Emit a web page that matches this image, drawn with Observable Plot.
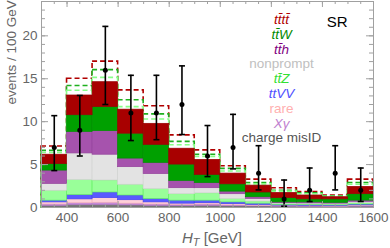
<!DOCTYPE html>
<html><head><meta charset="utf-8">
<script src="https://cdn.jsdelivr.net/npm/d3@7"></script>
<script src="https://cdn.jsdelivr.net/npm/@observablehq/plot@0.6"></script>
<style>body{margin:0;background:#fff}#chart{width:390px;height:248px}</style>
</head><body><div id="chart"></div>
<script>
// bin lower edges (GeV), width 100
const binLo = [300,400,500,600,700,800,900,1000,1100,1200,1300,1400,1500];
const binWidth = 100;

// stacked background components (bottom to top)
const components = ["charge misID","Xγ","rare","ttVV","ttZ","nonprompt","tth","ttW","tttt"];
const misID     = [0.20,0.30,0.30,0.25,0.20,0.17,0.20,0.15,0.12,0.10,0.09,0.08,0.10];
const xgamma    = [0.15,0.20,0.25,0.20,0.15,0.13,0.15,0.10,0.08,0.05,0.05,0.04,0.07];
const rare      = [0.25,0.45,0.55,0.40,0.25,0.15,0.15,0.15,0.10,0.07,0.06,0.06,0.08];
const ttVV      = [0.20,0.50,0.65,0.55,0.40,0.35,0.30,0.20,0.15,0.08,0.08,0.07,0.10];
const ttZ       = [1.15,1.75,1.40,1.25,1.15,0.75,0.85,0.40,0.25,0.10,0.10,0.10,0.15];
const nonprompt = [0.80,3.10,3.00,2.05,1.75,0.70,0.60,0.55,0.30,0.10,0.10,0.10,0.15];
const tth       = [1.55,2.50,2.75,1.00,1.30,0.85,0.60,0.30,0.20,0.10,0.12,0.10,0.15];
const ttW       = [0.75,1.95,2.80,2.90,2.10,1.90,0.95,0.85,0.55,0.50,0.35,0.40,0.75];
const tttt      = [1.10,2.30,2.90,2.80,2.45,1.85,1.75,1.25,0.80,0.60,0.45,0.25,0.85];
const seriesValues = [misID,xgamma,rare,ttVV,ttZ,nonprompt,tth,ttW,tttt];

// dashed outline totals
const redDashed   = [7.10,15.00,17.00,13.65,11.80,8.40,6.65,4.80,3.25,2.25,1.80,1.40,3.25];
const greenDashed = [6.60,14.15,16.00,12.50,10.85,7.65,6.15,4.50,2.85,1.95,1.65,1.30,2.85];
const lightDashed = [6.35,13.60,15.10,11.70,10.25,7.25,5.90,4.20,2.70,1.85,1.55,1.25,2.65];

// observed data with error bars
const observed = [7,9,16,11,11,12,6,7,4,1,2,4,2];
const errLow   = [4.3,6.0,12.0,7.8,7.9,8.5,3.6,4.5,2.05,0.15,0.7,2.05,0.7];
const errHigh  = [10.7,13.05,21.1,15.4,15.4,16.5,9.55,10.85,7.2,3.2,4.6,7.2,4.6];

// axis ticks
const xTicks = [400,600,800,1000,1200,1400,1600];
const yTicks = [0,5,10,15,20];

// legend
const legendLabels = ["t\u0074\u0304t\u0074\u0304","t\u0074\u0304W","t\u0074\u0304h","nonprompt","t\u0074\u0304Z","ttVV","rare","Xγ","charge misID"];
const legendItalic = [true,true,true,false,true,true,false,true,false];
const legendColors = ["#b00000","#008a00","#800080","#c0c0c0","#33e033","#5050ff","#ffb0b0","#c080d0","#555555"];

const fills   = ["#7a7a7a","#c58ad8","#ffd0d8","#5a5aff","#99ff99","#e3e3e3","#a653ad","#00a000","#a80000"];
const strokes = ["#6a6a6a","#b878cc","#f4b0bc","#4444f4","#66f066","#d4d4d4","#95429c","#008e00","#960000"];

const stackRows = [];
components.forEach((c, j) => binLo.forEach((b, i) =>
  stackRows.push({comp: c, x1: b, x2: b + binWidth, v: seriesValues[j][i]})));
const bins = binLo.map((b, i) => ({x1: b, x2: b + binWidth, xc: b + binWidth / 2,
  red: redDashed[i], green: greenDashed[i], light: lightDashed[i],
  n: observed[i], lo: errLow[i], hi: errHigh[i]}));

const capSymbol = {draw(ctx, size) { const r = Math.sqrt(size / Math.PI); ctx.moveTo(-r, 0); ctx.lineTo(r, 0); }};
const xMinor = d3.range(300, 1601, 50);
const yMinor = d3.range(0, 25, 1);
const axisColor = "#a0a0a0";

const legendMarks = legendLabels.map((t, i) => Plot.text([t], {
  frameAnchor: "top-left", dx: 240, dy: 13 + i * 14.8, text: d => d, textAnchor: "middle",
  fill: legendColors[i], fontSize: 13.5, fontStyle: legendItalic[i] ? "italic" : "normal"
}));

const chart = Plot.plot({
  width: 390, height: 248,
  marginLeft: 41, marginRight: 17, marginTop: 1, marginBottom: 41,
  x: {domain: [300, 1600]},
  y: {domain: [0, 24]},
  color: {domain: components, range: fills},
  style: {fontFamily: "Liberation Sans, Arial, sans-serif", fontSize: "13px", background: "white"},
  marks: [
    Plot.rectY(bins, {x1: "x1", x2: "x2", y1: 0, y2: "red", fill: "white", stroke: "#b00000", strokeWidth: 1.6, strokeDasharray: "5,3"}),
    Plot.rectY(bins, {x1: "x1", x2: "x2", y1: 0, y2: "green", fill: "white", stroke: "#1fb01f", strokeWidth: 1.6, strokeDasharray: "5,3"}),
    Plot.rectY(bins, {x1: "x1", x2: "x2", y1: 0, y2: "light", fill: "white", stroke: "#88ff88", strokeWidth: 1.6, strokeDasharray: "5,3"}),
    Plot.rectY(stackRows, {x1: "x1", x2: "x2", y: "v", fill: "comp", order: components,
      stroke: d => strokes[components.indexOf(d.comp)], strokeWidth: 0.7}),
    Plot.ruleX(bins, {x: "xc", y1: "lo", y2: "hi", stroke: "black", strokeWidth: 1.6}),
    Plot.dot(bins, {x: "xc", y: "lo", symbol: capSymbol, r: 3, stroke: "black", strokeWidth: 1.6}),
    Plot.dot(bins, {x: "xc", y: "hi", symbol: capSymbol, r: 3, stroke: "black", strokeWidth: 1.6}),
    Plot.dot(bins, {x: "xc", y: "n", r: 2.5, fill: "black"}),
    Plot.frame({stroke: axisColor}),
    Plot.tickX(xTicks, {x: d => d, insetTop: 200, stroke: axisColor}),
    Plot.tickX(xTicks, {x: d => d, insetBottom: 200, stroke: axisColor}),
    Plot.tickX(xMinor, {x: d => d, insetTop: 203, stroke: axisColor}),
    Plot.tickX(xMinor, {x: d => d, insetBottom: 203, stroke: axisColor}),
    Plot.tickY(yTicks, {y: d => d, insetRight: 325, stroke: axisColor}),
    Plot.tickY(yTicks, {y: d => d, insetLeft: 325, stroke: axisColor}),
    Plot.tickY(yMinor, {y: d => d, insetRight: 328, stroke: axisColor}),
    Plot.tickY(yMinor, {y: d => d, insetLeft: 328, stroke: axisColor}),
    Plot.axisX(xTicks, {tickSize: 0, tickPadding: 5, fill: "#666", fontSize: 13.5, label: null, tickFormat: d => String(d)}),
    Plot.axisY(yTicks, {tickSize: 0, tickPadding: 4, fill: "#666", fontSize: 13.5, label: null, tickFormat: d => String(d)}),
    Plot.text(["events / 100 GeV"], {frameAnchor: "left", dx: -30, rotate: -90, text: d => d, fill: "#666", fontSize: 13.5}),
    Plot.text(["SR"], {frameAnchor: "top-right", dx: -26, dy: 15, text: d => d, fill: "black", fontSize: 15}),
    ...legendMarks
  ]
});
document.getElementById("chart").appendChild(chart);

// x-axis title with subscript
const svg = d3.select(chart);
const t = svg.append("text").attr("x", 212).attr("y", 243).attr("text-anchor", "middle")
  .attr("fill", "#666").attr("font-size", 15).attr("font-family", "Liberation Sans, Arial, sans-serif");
t.append("tspan").attr("font-style", "italic").text("H");
t.append("tspan").attr("font-style", "italic").attr("font-size", 11).attr("dy", 3).text("T");
t.append("tspan").attr("dy", -3).text(" [GeV]");
</script>
</body></html>
